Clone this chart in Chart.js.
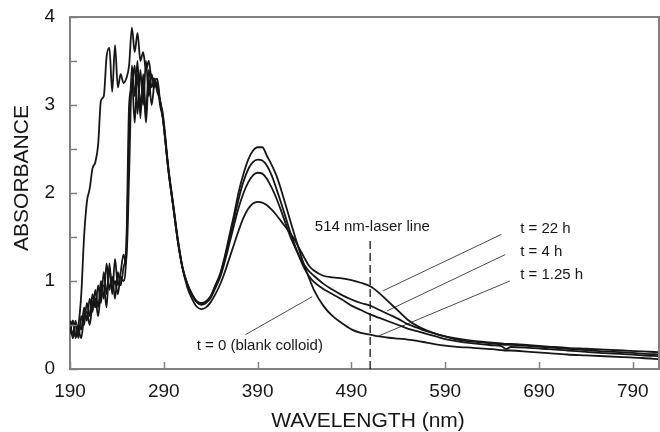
<!DOCTYPE html>
<html>
<head>
<meta charset="utf-8">
<script src="https://cdn.jsdelivr.net/npm/chart.js@4.4.0/dist/chart.umd.min.js"></script>
<style>
html, body { margin: 0; padding: 0; background: #fff; }
#wrap { width: 660px; height: 432px; }
</style>
</head>
<body>
<div id="wrap"><canvas id="spectra" width="660" height="432"></canvas></div>
<script>
// ---------------- DATA ----------------
const wavelengths = [
  190, 193, 196, 199, 202, 205, 208, 211, 214, 217,
  220, 223, 226, 229, 232, 235, 238, 241, 244, 247,
  250, 253, 256, 259, 262, 265, 268, 271, 274, 277,
  280, 283, 286, 289,
  295, 300, 305, 310, 315, 320, 325, 330, 335, 340,
  345, 350, 355, 360, 365, 370, 375, 380, 385, 390,
  395, 400, 405, 410, 415, 420, 425, 430, 435, 440,
  445, 450,
  460, 470, 480, 490, 500, 510, 520, 530, 540, 550, 560, 570, 580, 590, 600,
  620, 640, 650, 655, 660, 680, 700, 720, 740, 760, 780, 800, 819
];

// t = 0 (blank colloid)
const absT0 = [
  0.45, 0.55, 0.38, 0.5, 0.85, 1.5, 1.9, 2.05, 2.28, 2.35,
  2.55, 3.05, 3.1, 3.55, 3.65, 3.15, 3.68, 3.2, 3.35, 3.25,
  3.3, 3.45, 3.88, 3.6, 3.82, 3.5, 3.6, 3.4, 3.5, 3.3,
  3.3, 3.2, 3.05, 2.85,
  2.25, 1.85, 1.45, 1.15, 0.97, 0.85, 0.77, 0.74, 0.76, 0.82,
  0.95, 1.08, 1.28, 1.52, 1.76, 2.02, 2.22, 2.38, 2.48, 2.52,
  2.52, 2.42, 2.32, 2.2, 2.04, 1.86, 1.68, 1.5, 1.33, 1.17,
  1.03, 0.9,
  0.72, 0.6, 0.52, 0.45, 0.41, 0.39, 0.37, 0.355, 0.345, 0.335, 0.32, 0.3, 0.28, 0.265, 0.255,
  0.24, 0.225, 0.215, 0.21, 0.21, 0.195, 0.18, 0.165, 0.155, 0.145, 0.135, 0.125, 0.11
];

// t = 1.25 h
const absT125 = [
  0.5, 0.4, 0.55, 0.35, 0.6, 0.5, 0.75, 0.6, 0.85, 0.7,
  0.95, 0.75, 1.1, 0.85, 1.15, 0.9, 1.0, 0.85, 1.05, 1.0,
  1.3, 2.6, 3.45, 3.1, 3.5, 2.85, 3.35, 2.9, 3.4, 3.2,
  3.3, 3.15, 3.05, 2.85,
  2.25, 1.85, 1.45, 1.15, 0.97, 0.85, 0.77, 0.75, 0.77, 0.83,
  0.95, 1.07, 1.26, 1.48, 1.71, 1.94, 2.13, 2.27, 2.35, 2.38,
  2.37, 2.31, 2.2, 2.05, 1.89, 1.72, 1.55, 1.4, 1.26, 1.14,
  1.05, 0.99,
  0.91, 0.85, 0.79, 0.72, 0.67, 0.62, 0.58, 0.54, 0.5, 0.46, 0.43, 0.4, 0.37, 0.34, 0.32,
  0.29, 0.27, 0.26, 0.225, 0.25, 0.24, 0.225, 0.21, 0.195, 0.18, 0.17, 0.155, 0.145
];

// t = 4 h
const absT4 = [
  0.4, 0.55, 0.35, 0.5, 0.45, 0.7, 0.55, 0.8, 0.65, 0.9,
  0.7, 1.0, 0.8, 1.2, 0.9, 1.05, 0.8, 1.1, 0.95, 1.15,
  1.4, 3.0, 3.2, 3.45, 2.9, 3.4, 3.0, 3.5, 3.1, 3.35,
  3.2, 3.25, 3.0, 2.85,
  2.25, 1.85, 1.45, 1.14, 0.96, 0.84, 0.76, 0.73, 0.75, 0.81,
  0.92, 1.04, 1.22, 1.43, 1.64, 1.84, 2.0, 2.12, 2.2, 2.23,
  2.22, 2.16, 2.06, 1.94, 1.8, 1.65, 1.5, 1.38, 1.27, 1.18,
  1.11, 1.06,
  0.97, 0.9, 0.84, 0.79, 0.75, 0.72, 0.67, 0.62, 0.57, 0.51, 0.47, 0.43, 0.4, 0.37, 0.34,
  0.31, 0.29, 0.28, 0.275, 0.275, 0.26, 0.245, 0.23, 0.215, 0.2, 0.19, 0.175, 0.165
];

// t = 22 h
const absT22 = [
  0.55, 0.35, 0.5, 0.45, 0.35, 0.6, 0.65, 0.5, 0.75, 0.8,
  0.6, 0.9, 0.95, 0.7, 1.2, 0.85, 1.25, 0.95, 1.1, 1.3,
  1.2, 2.2, 3.3, 2.8, 3.35, 3.0, 3.25, 2.8, 3.3, 3.0,
  3.25, 3.3, 3.05, 2.9,
  2.28, 1.88, 1.48, 1.15, 0.93, 0.8, 0.71, 0.68, 0.7, 0.76,
  0.85, 0.96, 1.1, 1.26, 1.42, 1.58, 1.72, 1.82, 1.88, 1.9,
  1.89, 1.86, 1.81, 1.75, 1.68, 1.61, 1.54, 1.46, 1.36, 1.26,
  1.17, 1.12,
  1.06, 1.04, 1.03, 1.01, 0.98, 0.94, 0.86, 0.76, 0.66, 0.56, 0.49, 0.44, 0.4, 0.37, 0.35,
  0.32, 0.3, 0.29, 0.285, 0.285, 0.27, 0.255, 0.24, 0.23, 0.22, 0.21, 0.2, 0.19
];

const xTicks = [190, 290, 390, 490, 590, 690, 790];
const yTicks = [0, 0.5, 1, 1.5, 2, 2.5, 3, 3.5, 4];

// laser line (nm) and its top (absorbance)
const laserLine = 510;
const laserTop = 1.47;

// leader lines, in [nm, absorbance]
const leaderLines = [
  { from: [650, 1.53], to: [524, 0.89] },
  { from: [654, 1.30], to: [528, 0.66] },
  { from: [659, 1.00], to: [520, 0.38] },
  { from: [377, 0.39], to: [448, 0.82] }
];

// text notes, left edge / middle, in [nm, absorbance]
const notes = [
  { text: "514 nm-laser line", at: [451, 1.615] },
  { text: "t = 22 h", at: [670, 1.59] },
  { text: "t = 4 h", at: [670, 1.33] },
  { text: "t = 1.25 h", at: [670, 1.07] },
  { text: "t = 0 (blank colloid)", at: [325, 0.26] }
];

// ---------------- STYLE ----------------
const FONT = '"Liberation Sans", Arial, Helvetica, sans-serif';
const INK = "#161616";
const AXIS = "#808080";

const toPoints = vals => wavelengths.map((w, i) => ({ x: w, y: vals[i] }));

const curve = (label, vals) => ({
  label,
  data: toPoints(vals),
  borderColor: INK,
  borderWidth: 1.8,
  pointRadius: 0,
  cubicInterpolationMode: "monotone",
  fill: false
});

// frame, inside ticks, titles and notes
const decor = {
  id: "decor",
  afterDraw(chart) {
    const { ctx, chartArea: a, scales: { x, y } } = chart;
    ctx.save();
    ctx.strokeStyle = AXIS;
    ctx.lineWidth = 2;
    ctx.beginPath();
    ctx.moveTo(a.left, a.top);
    ctx.lineTo(a.right, a.top);
    ctx.moveTo(a.right - 1, a.top);
    ctx.lineTo(a.right - 1, a.bottom);
    ctx.stroke();

    ctx.lineWidth = 1.5;
    ctx.beginPath();
    xTicks.forEach(v => {
      const px = Math.round(x.getPixelForValue(v)) + 0.5;
      ctx.moveTo(px, a.bottom);
      ctx.lineTo(px, a.bottom - 7);
    });
    yTicks.forEach(v => {
      const py = Math.round(y.getPixelForValue(v)) + 0.5;
      ctx.moveTo(a.left, py);
      ctx.lineTo(a.left + 7, py);
    });
    ctx.stroke();

    ctx.fillStyle = INK;
    ctx.font = "21px " + FONT;
    ctx.textAlign = "center";
    ctx.textBaseline = "middle";
    ctx.fillText("WAVELENGTH (nm)", 368, 421);
    ctx.save();
    ctx.translate(22, 178);
    ctx.rotate(-Math.PI / 2);
    ctx.fillText("ABSORBANCE", 0, 0);
    ctx.restore();

    ctx.font = "15px " + FONT;
    ctx.textAlign = "left";
    notes.forEach(n => {
      ctx.fillText(n.text, x.getPixelForValue(n.at[0]), y.getPixelForValue(n.at[1]));
    });
    ctx.restore();
  }
};

new Chart(document.getElementById("spectra"), {
  type: "line",
  data: {
    datasets: [
      curve("t = 0", absT0),
      curve("t = 1.25 h", absT125),
      curve("t = 4 h", absT4),
      curve("t = 22 h", absT22),
      {
        label: "514 nm-laser line",
        data: [{ x: laserLine, y: 0 }, { x: laserLine, y: laserTop }],
        borderColor: INK,
        borderWidth: 1.3,
        borderDash: [8, 4],
        pointRadius: 0
      },
      ...leaderLines.map(l => ({
        label: "leader",
        data: [{ x: l.from[0], y: l.from[1] }, { x: l.to[0], y: l.to[1] }],
        borderColor: "#4a4a4a",
        borderWidth: 1,
        pointRadius: 0
      }))
    ]
  },
  options: {
    responsive: false,
    animation: false,
    devicePixelRatio: 1,
    layout: { padding: { top: 17, right: 0, bottom: 0, left: 0 } },
    plugins: {
      legend: { display: false },
      tooltip: { enabled: false }
    },
    scales: {
      x: {
        type: "linear",
        min: 190,
        max: 819,
        afterBuildTicks: s => { s.ticks = xTicks.map(v => ({ value: v })); },
        afterFit: s => { s.height = 63; s.paddingRight = 0; },
        grid: { display: false, drawTicks: false },
        border: { display: true, color: AXIS, width: 2 },
        ticks: {
          color: INK,
          font: { family: FONT, size: 19 },
          padding: 11,
          maxRotation: 0,
          autoSkip: false
        }
      },
      y: {
        type: "linear",
        min: 0,
        max: 4,
        afterBuildTicks: s => { s.ticks = yTicks.map(v => ({ value: v })); },
        afterFit: s => { s.width = 70; s.paddingTop = 0; s.paddingBottom = 0; },
        grid: { display: false, drawTicks: false },
        border: { display: true, color: AXIS, width: 2 },
        ticks: {
          color: INK,
          font: { family: FONT, size: 19 },
          padding: 15,
          autoSkip: false,
          callback: v => Number.isInteger(v) ? String(v) : ""
        }
      }
    }
  },
  plugins: [decor]
});
</script>
</body>
</html>
